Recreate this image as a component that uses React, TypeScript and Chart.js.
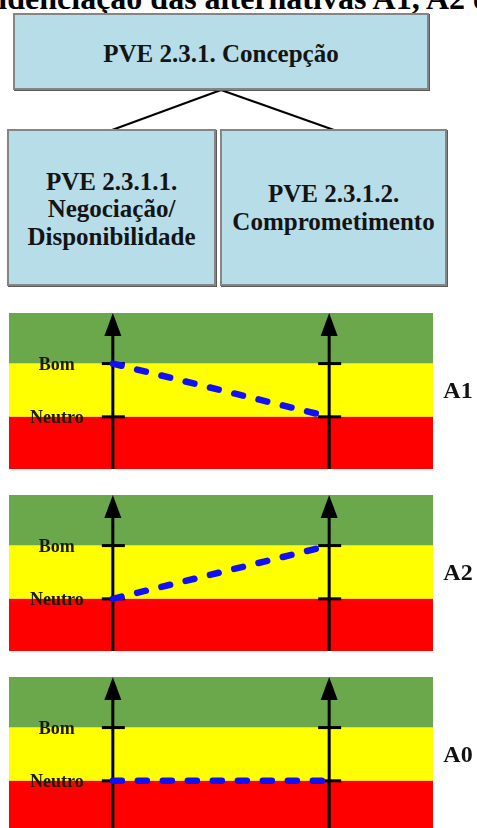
import React, { useEffect, useRef } from "react";
import { Chart, registerables } from "chart.js";

Chart.register(...registerables);

// ---- data ----
const titleText = "Evidenciação das alternativas A1, A2 e A0";
const parentNode = ["PVE 2.3.1. Concepção"];
const childLeft = ["PVE 2.3.1.1.", "Negociação/", "Disponibilidade"];
const childRight = ["PVE 2.3.1.2.", "Comprometimento"];
const criteriaX = [0, 1]; // PVE 2.3.1.1, PVE 2.3.1.2
const levelNames = ["Neutro", "Bom"];
const levelValues = [0, 1];
const altNames = ["A1", "A2", "A0"];
const valuesA1 = [1, 0];
const valuesA2 = [0, 1];
const valuesA0 = [0, 0];

// ---- style ----
const SERIF = '"Liberation Serif", "Times New Roman", serif';
const GREEN = "#6aa84b";
const YELLOW = "#ffff00";
const RED = "#ff0000";
const BLUE = "#1010f8";
const BOX_FILL = "#b7dee8";

function Panel({ name, values, top }: { name: string; values: number[]; top: number }) {
  const ref = useRef<HTMLCanvasElement>(null);
  useEffect(() => {
    if (!ref.current) return;
    const bands = {
      id: "bands",
      beforeDatasetsDraw(chart: any) {
        const { ctx, chartArea: a, scales } = chart;
        const xs = scales.x;
        const ys = scales.y;
        const yBom = ys.getPixelForValue(levelValues[1]);
        const yNeu = ys.getPixelForValue(levelValues[0]);
        const w = a.right - a.left;
        ctx.save();
        ctx.fillStyle = GREEN;
        ctx.fillRect(a.left, a.top, w, yBom - a.top);
        ctx.fillStyle = YELLOW;
        ctx.fillRect(a.left, yBom, w, yNeu - yBom);
        ctx.fillStyle = RED;
        ctx.fillRect(a.left, yNeu, w, a.bottom - yNeu);
        // axes with arrows and ticks
        ctx.strokeStyle = "#000";
        ctx.fillStyle = "#000";
        criteriaX.forEach((cx) => {
          const px = xs.getPixelForValue(cx);
          ctx.lineWidth = 3;
          ctx.beginPath();
          ctx.moveTo(px, a.bottom);
          ctx.lineTo(px, a.top + 20);
          ctx.stroke();
          ctx.beginPath();
          ctx.moveTo(px, a.top);
          ctx.lineTo(px - 8.5, a.top + 23);
          ctx.lineTo(px + 8.5, a.top + 23);
          ctx.closePath();
          ctx.fill();
          levelValues.forEach((lv) => {
            const py = ys.getPixelForValue(lv);
            ctx.beginPath();
            ctx.moveTo(px - 11, py);
            ctx.lineTo(px + 12, py);
            ctx.stroke();
          });
        });
        // level labels left of first axis
        const px0 = xs.getPixelForValue(criteriaX[0]);
        ctx.font = `bold 18px ${SERIF}`;
        ctx.textAlign = "center";
        ctx.textBaseline = "alphabetic";
        ctx.fillStyle = "#1a1a12";
        levelValues.forEach((lv, i) => {
          const py = ys.getPixelForValue(lv);
          ctx.fillText(levelNames[i], px0 - 56, py + 6);
        });
        ctx.restore();
      },
      afterDraw(chart: any) {
        const { ctx, chartArea: a, scales } = chart;
        const ys = scales.y;
        const mid = (ys.getPixelForValue(levelValues[1]) + ys.getPixelForValue(levelValues[0])) / 2;
        ctx.save();
        ctx.font = `bold 24px ${SERIF}`;
        ctx.fillStyle = "#111";
        ctx.textAlign = "center";
        ctx.textBaseline = "alphabetic";
        ctx.fillText(name, a.right + 25, mid + 7.5);
        ctx.restore();
      },
    };
    const chart = new Chart(ref.current, {
      type: "line",
      data: {
        datasets: [
          {
            label: name,
            data: values.map((v, i) => ({ x: criteriaX[i], y: v })),
            borderColor: BLUE,
            borderWidth: 6.5,
            borderDash: [9, 16],
            borderCapStyle: "round",
            pointRadius: 0,
            fill: false,
            tension: 0,
          },
        ],
      },
      options: {
        animation: false,
        responsive: false,
        devicePixelRatio: 1,
        events: [],
        layout: { padding: { left: 9, right: 44, top: 0, bottom: 0 } },
        scales: {
          x: { type: "linear", min: -0.48, max: 1.48, display: false },
          y: { type: "linear", min: -0.98, max: 1.95, display: false },
        },
        plugins: { legend: { display: false }, tooltip: { enabled: false }, title: { display: false } },
      },
      plugins: [bands],
    } as any);
    return () => chart.destroy();
  }, [name, values]);
  return (
    <canvas
      ref={ref}
      width={477}
      height={156}
      style={{ position: "absolute", left: 0, top, width: 477, height: 156, display: "block" }}
    />
  );
}

const boxStyle: React.CSSProperties = {
  position: "absolute",
  boxSizing: "border-box",
  border: "2px solid #858585",
  boxShadow: "1px 1px 0 #5a5a5a",
  background: BOX_FILL,
  display: "flex",
  flexDirection: "column",
  alignItems: "center",
  justifyContent: "center",
  fontFamily: SERIF,
  fontWeight: "bold",
  fontSize: 25,
  lineHeight: "27.5px",
  color: "#141414",
  textAlign: "center",
  whiteSpace: "nowrap",
};

export default function App() {
  const panelTops = [313, 495, 677];
  const panelValues = [valuesA1, valuesA2, valuesA0];
  return (
    <div
      style={{
        position: "absolute",
        left: 0,
        top: 0,
        width: 477,
        height: 828,
        overflow: "hidden",
        background: "#fff",
      }}
    >
      <div
        style={{
          position: "absolute",
          left: -39,
          top: -18,
          fontFamily: SERIF,
          fontWeight: "bold",
          fontSize: 32,
          lineHeight: "32px",
          whiteSpace: "nowrap",
          color: "#000",
        }}
      >
        {titleText}
      </div>
      <svg
        width={477}
        height={828}
        style={{ position: "absolute", left: 0, top: 0, pointerEvents: "none" }}
      >
        <line x1={221} y1={90} x2={112} y2={130} stroke="#000" strokeWidth={2} />
        <line x1={221} y1={90} x2={334} y2={130} stroke="#000" strokeWidth={2} />
      </svg>
      <div style={{ ...boxStyle, left: 13, top: 13, width: 416, height: 77, paddingTop: 4 }}>
        {parentNode.map((t) => (
          <div key={t}>{t}</div>
        ))}
      </div>
      <div style={{ ...boxStyle, left: 7, top: 129, width: 209, height: 157, paddingTop: 3 }}>
        {childLeft.map((t) => (
          <div key={t}>{t}</div>
        ))}
      </div>
      <div style={{ ...boxStyle, left: 220, top: 129, width: 227, height: 157 }}>
        {childRight.map((t) => (
          <div key={t}>{t}</div>
        ))}
      </div>
      {altNames.map((n, i) => (
        <Panel key={n} name={n} values={panelValues[i]} top={panelTops[i]} />
      ))}
    </div>
  );
}
